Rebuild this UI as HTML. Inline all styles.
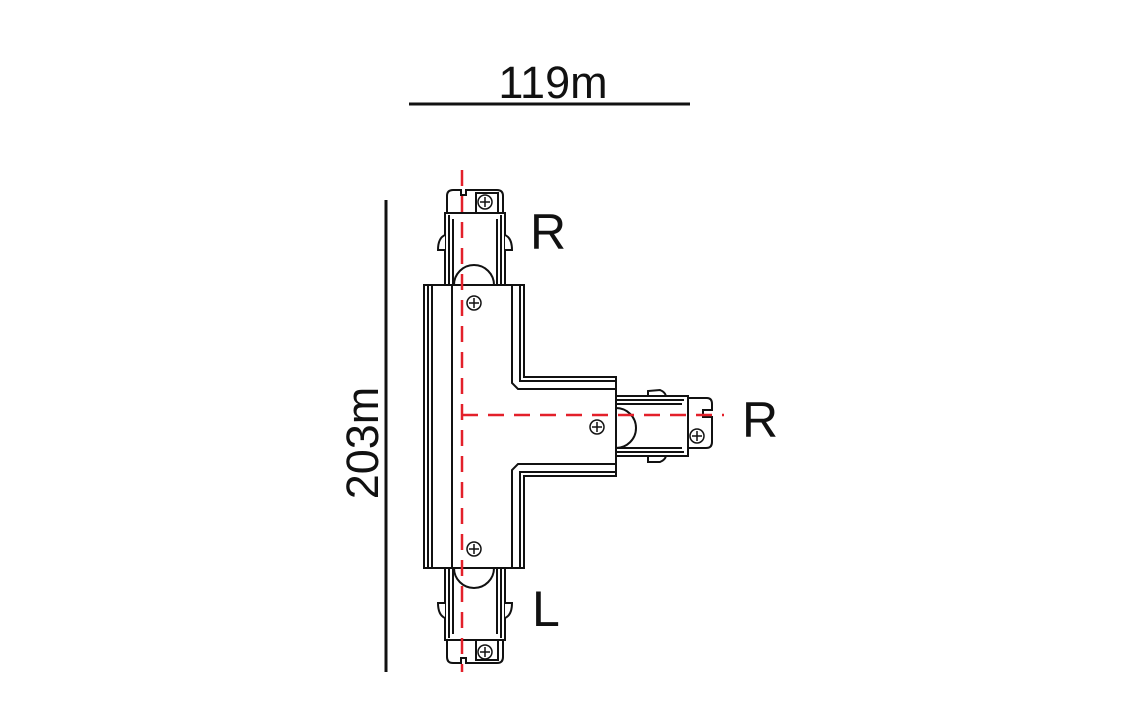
<!DOCTYPE html>
<html><head><style>body{margin:0;background:#fff}svg{display:block}text{font-family:"Liberation Sans",sans-serif;fill:#111}</style></head><body>
<svg width="1141" height="720" viewBox="0 0 1141 720">
<g stroke="#111" stroke-width="2" fill="none">
<line x1="409" y1="104" x2="690" y2="104" stroke-width="3"/>
<line x1="386" y1="200" x2="386" y2="672" stroke-width="3"/>
</g>
<text x="553" y="98" font-size="45" text-anchor="middle">119m</text>
<text transform="translate(378,443) rotate(-90)" font-size="45" text-anchor="middle">203m</text>
<text x="530" y="249" font-size="50">R</text>
<text x="742" y="437" font-size="50">R</text>
<text x="532" y="626" font-size="50">L</text>
<defs>
<g id="conn" stroke="#111" stroke-width="2" fill="#fff">
<path d="M447,213 L447,196 Q447,190 453,190 L461,190 L461,195 L466,195 L466,190 L497,190 Q503,190 503,196 L503,213 Z"/>
<rect x="476" y="193" width="22" height="20" fill="none"/>
<rect x="445" y="213" width="60" height="72"/>
<line x1="449" y1="215" x2="449" y2="285"/><line x1="453" y1="219" x2="453" y2="285"/>
<line x1="501" y1="215" x2="501" y2="285"/><line x1="497" y1="219" x2="497" y2="285"/>
<path d="M445,235 Q438,238 438,250 L445,250"/>
<path d="M505,235 Q512,238 512,250 L505,250"/>
<path d="M454,285 A20,20 0 0 1 494,285"/>
</g>
<g id="screw" stroke="#111" stroke-width="1.5" fill="#fff">
<circle r="7"/><line x1="-5" y1="0" x2="5" y2="0"/><line x1="0" y1="-5" x2="0" y2="5"/>
</g>
</defs>
<use href="#conn"/>
<use href="#conn" transform="translate(0,853) scale(1,-1)"/>
<g stroke="#111" stroke-width="2" fill="#fff">
<path d="M648,396 L648,391 L660,390 Q665,392 666,396 Z"/>
<path d="M648,456 L648,462 L660,462 Q665,460 666,456 Z"/>
<rect x="616" y="396" width="72" height="60"/>
<line x1="616" y1="400" x2="684" y2="400"/><line x1="616" y1="404" x2="682" y2="404"/>
<line x1="616" y1="452" x2="684" y2="452"/><line x1="616" y1="448" x2="682" y2="448"/>
<path d="M688,398 L707,398 Q712,398 712,404 L712,410 L703,410 L703,417 L710,417 L712,417 L712,442 Q712,448 706,448 L688,448 Z"/>
<path d="M616,408 A20,20 0 0 1 616,448"/>
<path d="M424,285 L524,285 L524,377 L616,377 L616,476 L524,476 L524,568 L424,568 Z"/>
<g fill="none">
<line x1="428" y1="285" x2="428" y2="568"/><line x1="432" y1="285" x2="432" y2="568"/><line x1="452" y1="285" x2="452" y2="568"/>
<path d="M520,285 L520,381 L616,381"/><path d="M512,285 L512,383 L518,389 L616,389"/>
<path d="M520,568 L520,472 L616,472"/><path d="M512,568 L512,470 L518,464 L616,464"/>
</g>
</g>
<use href="#screw" transform="translate(474,303)"/>
<use href="#screw" transform="translate(597,427)"/>
<use href="#screw" transform="translate(474,549)"/>
<use href="#screw" transform="translate(485,202)"/>
<use href="#screw" transform="translate(485,652)"/>
<use href="#screw" transform="translate(697,436)"/>
<g stroke="#e3202a" stroke-width="2.5" stroke-dasharray="16,10" fill="none">
<line x1="462" y1="170" x2="462" y2="672"/>
<line x1="462" y1="415" x2="724" y2="415"/>
</g>
</svg>
</body></html>
